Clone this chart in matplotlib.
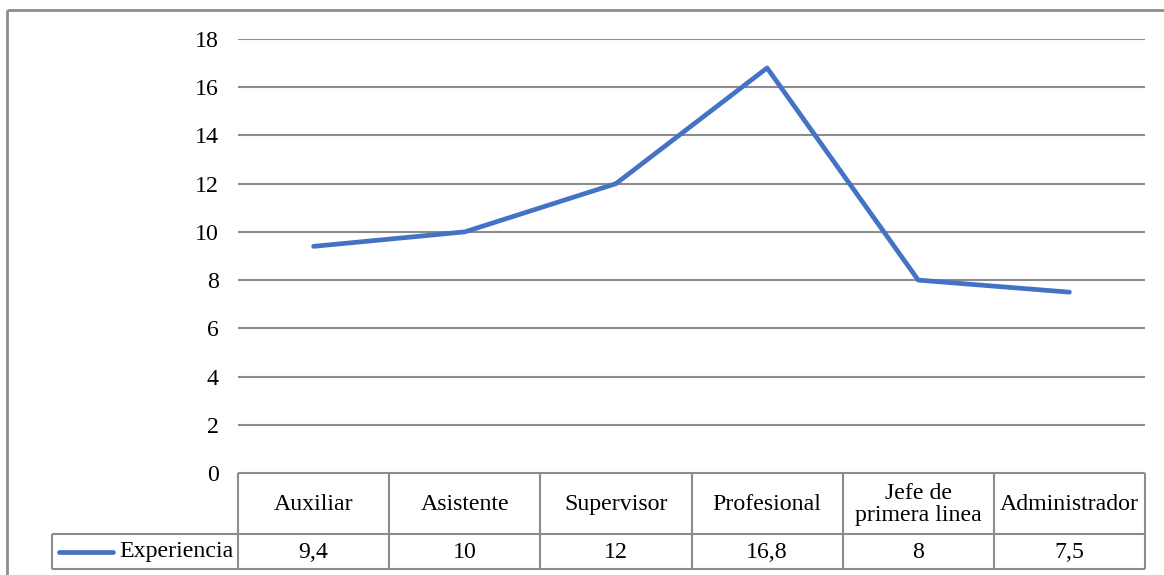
import matplotlib
matplotlib.use("Agg")
import matplotlib.pyplot as plt
from matplotlib.lines import Line2D

categories = ["Auxiliar", "Asistente", "Supervisor", "Profesional", "Jefe de\nprimera linea", "Administrador"]
values = [9.4, 10, 12, 16.8, 8, 7.5]
value_labels = ["9,4", "10", "12", "16,8", "8", "7,5"]
series_name = "Experiencia"
yticks = [0, 2, 4, 6, 8, 10, 12, 14, 16, 18]

W, H = 1164, 575
DPI = 100
plt.rcParams['font.family'] = ['Liberation Serif', 'DejaVu Serif']
FS = 17.2
LINE_COLOR = "#4472C4"
GRID = "#8c8c8c"

fig = plt.figure(figsize=(W / DPI, H / DPI), dpi=DPI)

# pixel layout
L, R, T, B = 238, 1145, 39, 473
ax = fig.add_axes([L / W, (H - B) / H, (R - L) / W, (B - T) / H])
n = len(categories)
xs = [i + 0.5 for i in range(n)]
ax.plot(xs, values, color=LINE_COLOR, lw=3.4, solid_joinstyle='round', solid_capstyle='round', zorder=3)
ax.set_xlim(0, n)
ax.set_ylim(0, 18)
ax.set_yticks(yticks)
ax.set_yticklabels([str(v) for v in yticks], fontsize=FS)
ax.tick_params(axis='y', length=0, pad=14)
ax.set_xticks([])
for s in ax.spines.values():
    s.set_visible(False)
ax.yaxis.grid(True, color=GRID, lw=1.5)
ax.set_axisbelow(True)

# overlay axes in pixel coordinates for table and border
ov = fig.add_axes([0, 0, 1, 1], zorder=-1)
ov.set_xlim(0, W)
ov.set_ylim(H, 0)
ov.axis('off')
ov.patch.set_alpha(0)

def line(x0, y0, x1, y1, c=GRID, lw=1.5):
    ov.add_line(Line2D([x0, x1], [y0, y1], color=c, lw=lw, solid_capstyle='butt'))

# outer border
line(6.5, 10, W + 5, 10, lw=2)
line(6.5, 10, 6.5, H + 5, lw=2)

# data table
row1_top, row1_bot, row2_bot = B, 534, 569
leg_left = 51.5
colw = (R - L) / n
line(L, row1_top, R, row1_top)
line(leg_left, row1_bot, R, row1_bot)
line(leg_left, row2_bot, R, row2_bot)
line(leg_left, row1_bot, leg_left, row2_bot)
for i in range(n + 1):
    x = L + i * colw
    line(x, row1_top, x, row2_bot)
for i, (c, v) in enumerate(zip(categories, value_labels)):
    cx = L + (i + 0.5) * colw
    ov.text(cx, (row1_top + row1_bot) / 2 + 1, c, ha='center', va='center', fontsize=FS, linespacing=1.12)
    ov.text(cx, (row1_bot + row2_bot) / 2 + 1, v, ha='center', va='center', fontsize=FS)

# legend key
ov.add_line(Line2D([59, 113], [551.5, 551.5], color=LINE_COLOR, lw=3.4, solid_capstyle='round'))
ov.text(L - 4, 551.5, series_name, ha='right', va='center', fontsize=FS)

fig.savefig("out.png", dpi=DPI)
